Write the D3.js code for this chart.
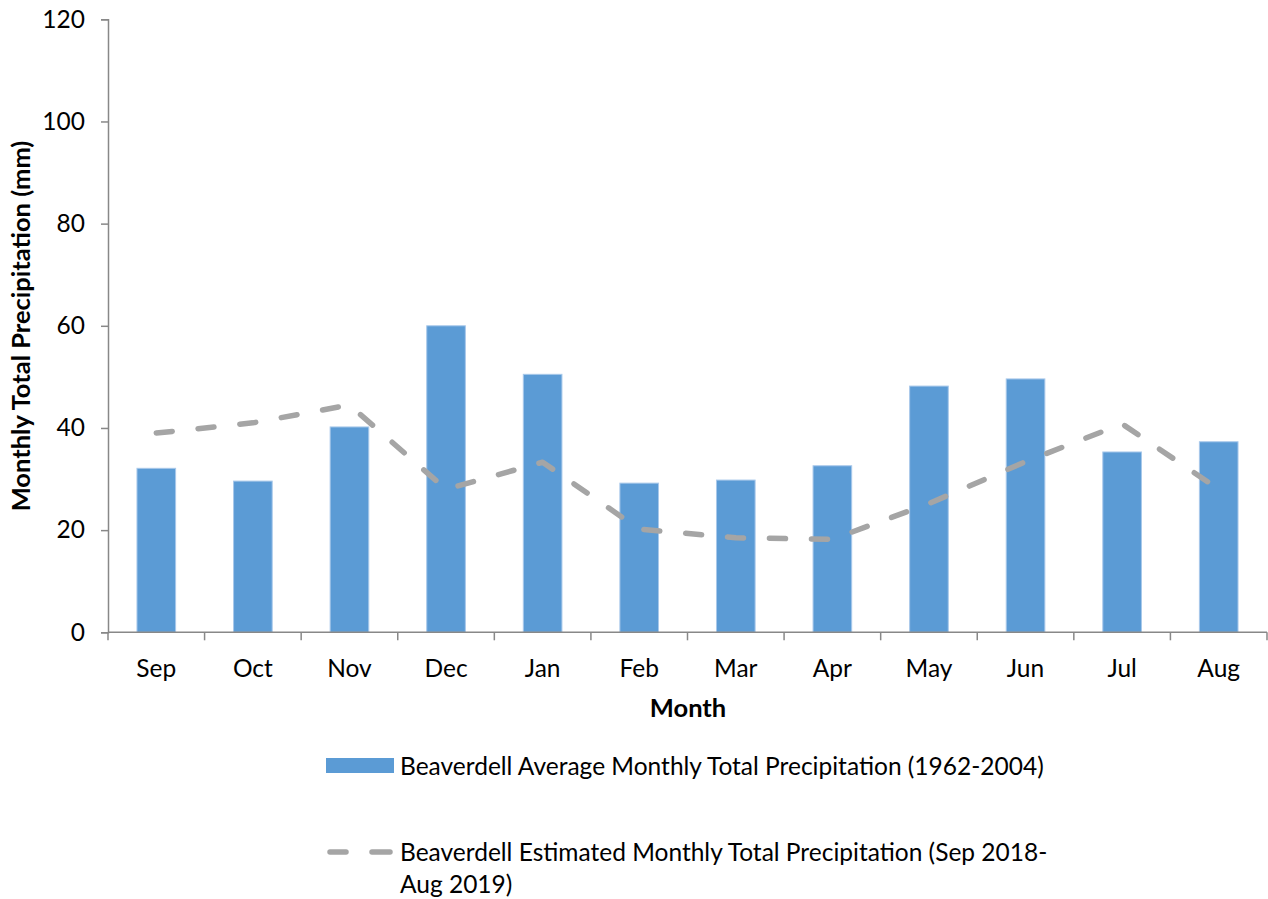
<!DOCTYPE html>
<html><head><meta charset="utf-8">
<script src="https://cdn.jsdelivr.net/npm/d3@7"></script>
<style>
body{margin:0;background:#fff;}
svg text{font-family:Lato, "Open Sans", sans-serif;fill:#000;}
</style></head>
<body><svg id="c" width="1268" height="899"></svg>
<script>
const months = ["Sep","Oct","Nov","Dec","Jan","Feb","Mar","Apr","May","Jun","Jul","Aug"];
const averagePrecip = [32.1,29.6,40.2,60.0,50.5,29.2,29.8,32.6,48.2,49.6,35.3,37.3];
const estimatedPrecip = [39.0,41.0,44.5,28.0,33.3,20.2,18.5,18.2,25.2,33.4,40.8,28.0];
const yTicks = [0,20,40,60,80,100,120];
const seriesNames = ["Beaverdell Average Monthly Total Precipitation (1962-2004)",
  ["Beaverdell Estimated Monthly Total Precipitation (Sep 2018-","Aug 2019)"]];

(function(){
const svg = d3.select("#c");
const pLeft=108,pRight=1267,pTop=19.3,pBottom=632.3;
const fs=24.5, fsb=25.5;
const x = d3.scaleBand().domain(months).range([pLeft,pRight]).paddingInner(0.6).paddingOuter(0.3);
const y = d3.scaleLinear().domain([0,120]).range([pBottom,pTop]);
const axisColor="#888888";

// bars
svg.append("g").selectAll("rect").data(months).join("rect")
  .attr("x",d=>x(d)).attr("width",x.bandwidth())
  .attr("y",(d,i)=>y(averagePrecip[i])).attr("height",(d,i)=>pBottom-y(averagePrecip[i]))
  .attr("fill","#5b9bd5").attr("stroke","#a8c8ea").attr("stroke-width",1);

// y axis
const ya = svg.append("g").attr("transform",`translate(${pLeft},0)`)
  .call(d3.axisLeft(y).tickValues(yTicks).tickSize(7).tickPadding(16));
ya.select(".domain").attr("stroke",axisColor).attr("stroke-width",1.5);
ya.selectAll(".tick line").attr("stroke",axisColor).attr("stroke-width",1.5);
ya.selectAll(".tick text").attr("font-size",fs).attr("font-family","Lato, sans-serif").attr("fill","#000");

// x axis
const step = x.step();
svg.append("line").attr("x1",pLeft).attr("x2",pRight).attr("y1",pBottom).attr("y2",pBottom)
  .attr("stroke",axisColor).attr("stroke-width",1.5);
svg.append("g").selectAll("line").data(d3.range(months.length+1)).join("line")
  .attr("x1",i=>pLeft+i*step).attr("x2",i=>pLeft+i*step)
  .attr("y1",pBottom).attr("y2",pBottom+8).attr("stroke",axisColor).attr("stroke-width",1.5);
svg.append("g").selectAll("text").data(months).join("text")
  .attr("x",d=>x(d)+x.bandwidth()/2).attr("y",677).attr("text-anchor","middle")
  .attr("font-size",fs).text(d=>d);

// line
const line = d3.line().x((d,i)=>x(months[i])+x.bandwidth()/2).y(d=>y(d));
svg.append("path").datum(estimatedPrecip).attr("d",line)
  .attr("fill","none").attr("stroke","#a5a5a5").attr("stroke-width",5.5)
  .attr("stroke-linecap","round").attr("stroke-linejoin","round")
  .attr("stroke-dasharray","16,26");

// titles
svg.append("text").attr("x",688).attr("y",717).attr("text-anchor","middle")
  .attr("font-size",fsb).attr("font-weight","bold").text("Month");
svg.append("text").attr("transform","translate(30,326) rotate(-90)").attr("text-anchor","middle")
  .attr("font-size",fsb).attr("font-weight","bold").text("Monthly Total Precipitation (mm)");

// legend
svg.append("rect").attr("x",326).attr("y",758).attr("width",68).attr("height",15).attr("fill","#5b9bd5");
svg.append("text").attr("x",400).attr("y",775).attr("font-size",fs).text(seriesNames[0]);
svg.append("line").attr("x1",330).attr("x2",346).attr("y1",852).attr("y2",852)
  .attr("stroke","#a5a5a5").attr("stroke-width",5.5).attr("stroke-linecap","round");
svg.append("line").attr("x1",372).attr("x2",390).attr("y1",852).attr("y2",852)
  .attr("stroke","#a5a5a5").attr("stroke-width",5.5).attr("stroke-linecap","round");
svg.append("text").attr("x",400).attr("y",861).attr("font-size",fs).text(seriesNames[1][0]);
svg.append("text").attr("x",400).attr("y",893).attr("font-size",fs).text(seriesNames[1][1]);
})();
</script></body></html>
